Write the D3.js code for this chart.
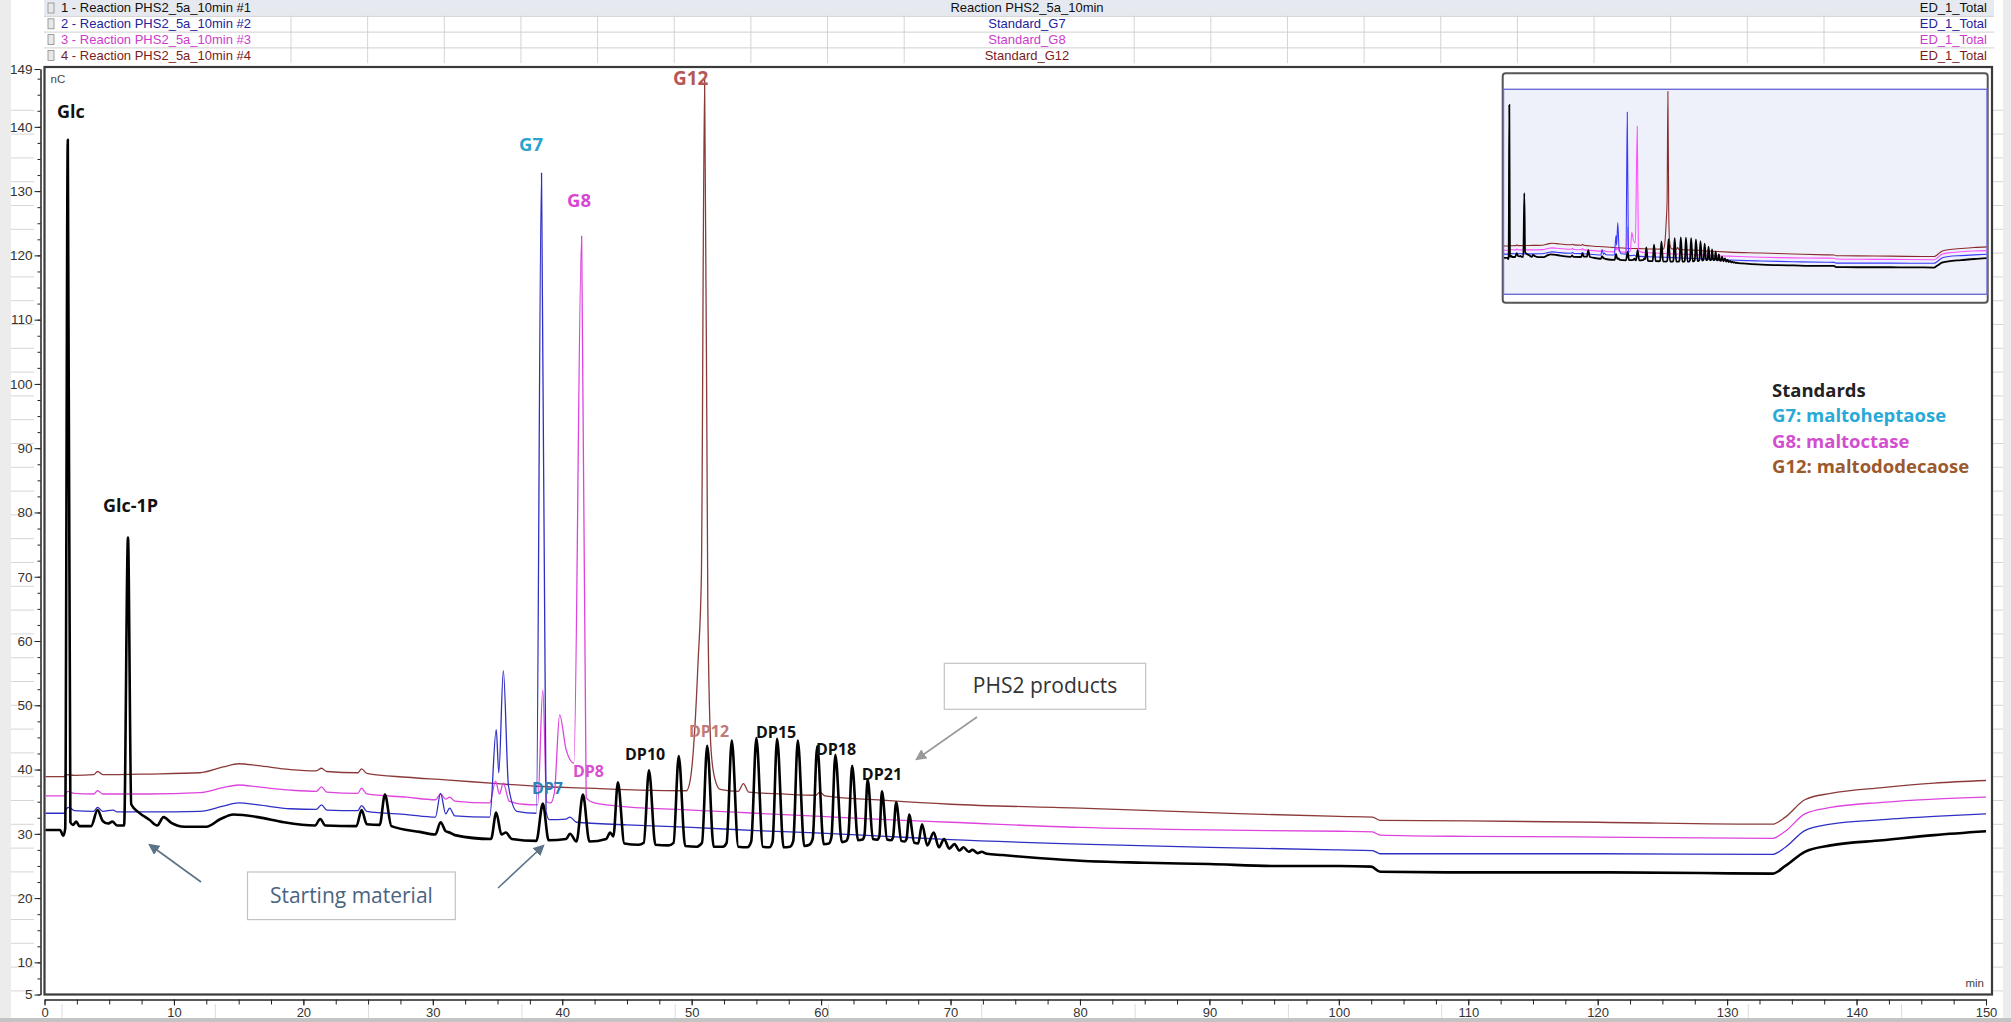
<!DOCTYPE html>
<html><head><meta charset="utf-8">
<script src="https://cdn.jsdelivr.net/npm/d3@7"></script>
<style>
html,body{margin:0;padding:0;background:#ffffff;overflow:hidden;}
svg{display:block;}
</style></head><body>
<svg id="chart" width="2011" height="1022"></svg>
<script>
// ---------- DATA ----------
const timeTicks = [0,10,20,30,40,50,60,70,80,90,100,110,120,130,140,150];
const nCTicks = [5,10,20,30,40,50,60,70,80,90,100,110,120,130,140,149];

const headerRows = [
  {label:"1 - Reaction PHS2_5a_10min #1", name:"Reaction PHS2_5a_10min", detector:"ED_1_Total"},
  {label:"2 - Reaction PHS2_5a_10min #2", name:"Standard_G7", detector:"ED_1_Total"},
  {label:"3 - Reaction PHS2_5a_10min #3", name:"Standard_G8", detector:"ED_1_Total"},
  {label:"4 - Reaction PHS2_5a_10min #4", name:"Standard_G12", detector:"ED_1_Total"}
];

// trace 1: reaction sample [min, nC]
const reactionTrace = [
[0,30.6],[1.2,30.6],[1.45,29.7],[1.6,30.8],[1.8,138],[2.0,31.8],[2.2,31.4],[2.45,31.9],[2.7,31.2],[3.6,31.2],
[4.1,33.7],[4.5,32.0],[4.9,31.6],[5.25,31.9],[5.6,31.3],[6.15,31.3],[6.45,76.1],[6.7,34.6],[7.3,33.3],[8.1,32.2],
[8.7,31.3],[9.2,32.6],[9.8,31.7],[10.8,31.1],[12.5,31.1],[13.6,32.3],[14.6,33.0],[16.5,32.6],[18.5,31.8],[20.9,31.3],
[21.3,32.3],[21.7,31.3],[24.1,31.2],[24.5,33.7],[24.9,31.5],[25.9,31.4],[26.3,36.1],[26.8,31.2],[29.0,30.3],[30.2,29.9],
[30.6,31.8],[31.0,30.4],[31.3,30.2],[31.7,29.8],[34.5,29.2],[34.9,33.3],[35.3,29.9],[35.65,30.2],[36.1,29.2],[38.0,28.9],
[38.5,34.7],[38.95,29.0],[40.3,29.2],[40.6,30.0],[41.1,28.8],[41.6,36.1],[42.1,28.8],[43.4,29.2],[43.7,30.2],[43.95,29.6],
[44.3,38.0],[44.8,28.5],[45.9,28.3],[46.3,28.6],[46.7,39.9],[47.2,28.3],[48.2,28.2],[48.6,28.6],[49.0,42.1],[49.5,28.1],
[50.4,28.0],[50.8,28.6],[51.2,43.7],[51.7,28.0],[52.4,28.0],[52.7,28.6],[53.1,44.5],[53.6,28.0],[54.3,27.9],[54.6,28.8],
[55.0,44.9],[55.5,28.0],[56.0,27.9],[56.25,28.8],[56.6,44.8],[57.1,27.9],[57.6,28.0],[57.85,28.9],[58.2,44.5],[58.7,28.1],
[59.1,28.3],[59.35,29.2],[59.7,43.6],[60.2,28.4],[60.6,28.5],[60.8,29.5],[61.1,42.3],[61.6,28.7],[61.95,28.9],[62.1,29.7],
[62.4,40.6],[62.85,29.0],[63.2,29.1],[63.35,29.8],[63.6,38.5],[64.0,29.2],[64.35,29.1],[64.5,29.6],[64.7,36.6],[65.1,29.1],
[65.4,29.0],[65.55,29.4],[65.8,34.9],[66.2,28.9],[66.45,28.8],[66.6,29.2],[66.8,33.0],[67.2,28.6],[67.5,28.5],[67.8,31.5],
[68.2,28.2],[68.7,30.2],[69.1,27.9],[69.5,29.2],[69.9,27.7],[70.3,28.4],[70.7,27.4],[71.0,27.9],[71.4,27.2],[71.7,27.5],
[72.1,27.0],[72.4,27.2],[72.8,26.9],[74,26.7],[77,26.2],[80,25.8],[85,25.5],[90,25.3],[95,25.0],[100,25.0],
[102.5,24.9],[103.2,24.1],[110,24.0],[120,24.0],[128,23.9],[133.5,23.8],[134.5,25.0],[136,27.2],[138,28.2],[142,29.0],
[146,29.8],[150,30.4]];

// trace 2: standard G7
const g7Trace = [
[0,33.2],[1.5,33.2],[1.7,33.9],[1.9,34.1],[2.3,33.6],[3.8,33.5],[4.1,34.1],[4.5,33.5],[5.3,33.7],[5.6,33.4],
[8,33.4],[12,33.5],[13.8,34.3],[15,34.8],[16.5,34.5],[19,33.9],[21.0,33.8],[21.4,34.5],[21.8,33.7],[24.2,33.6],
[24.5,34.4],[24.9,33.5],[28,33.0],[30.2,32.6],[30.6,36.3],[31.0,33.1],[31.3,34.0],[31.7,32.8],[34.4,32.6],[34.9,46.2],
[35.1,39.5],[35.45,55.4],[35.85,37.4],[36.5,33.5],[38.0,33.2],[38.4,132.8],[38.75,33.5],[39.0,32.2],[40.3,32.3],[40.6,32.6],
[41.1,31.8],[45,31.4],[50,31.0],[55,30.5],[60,30.1],[65,29.6],[70,29.1],[80,28.4],[90,27.9],[100,27.5],
[102.6,27.4],[103.2,26.9],[110,26.9],[120,26.9],[133.5,26.8],[134.5,27.9],[136,30.5],[138,31.5],[142,32.2],[146,32.7],
[150,33.1]];

// trace 3: standard G8
const g8Trace = [
[0,35.9],[1.5,35.9],[1.8,36.6],[2.3,36.3],[3.8,36.2],[4.1,36.7],[4.5,36.2],[8,36.2],[12,36.4],[13.8,37.2],
[15,37.6],[16.5,37.3],[19,36.8],[21.0,36.6],[21.4,37.3],[21.8,36.5],[24.2,36.3],[24.5,37.1],[24.9,36.2],[28,35.7],
[30.2,35.3],[30.6,36.2],[31.0,35.4],[31.3,35.7],[31.7,35.1],[34.4,34.8],[34.85,38.2],[35.15,36.2],[35.45,37.9],[35.9,35.1],
[37.0,34.6],[38.1,34.5],[38.5,52.4],[38.8,35.0],[39.1,34.8],[39.4,36.5],[39.8,48.5],[40.3,43.1],[40.9,41.0],[41.5,123.0],
[41.85,35.6],[42.5,34.8],[45,34.2],[50,33.7],[55,33.2],[60,32.7],[65,32.2],[70,31.8],[80,31.0],[90,30.6],
[100,30.4],[102.6,30.3],[103.2,29.8],[110,29.6],[120,29.5],[133.5,29.3],[134.5,30.4],[136,33.1],[138,34.1],[142,34.9],
[146,35.4],[150,35.7]];

// trace 4: standard G12
const g12Trace = [
[0,38.9],[1.5,38.9],[1.7,39.2],[2.3,39.1],[3.8,39.2],[4.1,39.7],[4.5,39.2],[8,39.3],[12,39.5],[13.8,40.4],
[15,40.9],[16.5,40.6],[19,40.0],[21.0,39.8],[21.4,40.2],[21.8,39.7],[24.2,39.5],[24.5,40.1],[24.9,39.4],[28,38.8],
[31,38.4],[35,37.8],[38,37.4],[42,37.1],[46,36.8],[49.6,36.7],[49.9,38.5],[50.2,45],[50.5,57],[50.75,70],
[51.0,147.4],[51.25,65],[51.5,43],[51.8,38.5],[52.2,36.9],[53.6,36.6],[54.0,37.8],[54.4,36.5],[57,36.2],[59.6,36.0],
[59.9,36.5],[60.3,35.9],[65,35.2],[70,34.6],[80,34.0],[90,33.3],[100,32.7],[102.6,32.6],[103.2,32.1],[110,32.0],
[120,31.8],[133.5,31.5],[134.5,32.6],[136,35.3],[138,36.3],[142,37.2],[146,37.9],[150,38.3]];

const traceColors = ["#000000", "#2f2fc4", "#dd44dd", "#8b3a3a"];
const insetColors = ["#000000", "#3a3aff", "#ff50ff", "#8b2a2a"];
const headerColors = ["#111111", "#23239c", "#cc3ccc", "#7a1c1c"];

// peak annotations [text, min, nC (baseline-left anchor), colour, size]
const peakLabels = [
  ["Glc", 0.97, 141.4, "#111111", 18],
  ["Glc-1P", 4.52, 80.0, "#111111", 18],
  ["G7", 36.66, 136.3, "#2aa3cf", 18.5],
  ["G8", 40.37, 127.5, "#d847d4", 18.5],
  ["G12", 48.55, 146.5, "#b35757", 19],
  ["DP7", 37.66, 36.2, "#2f7fb8", 16],
  ["DP8", 40.83, 38.85, "#d84fd0", 16],
  ["DP10", 44.85, 41.5, "#111111", 16],
  ["DP12", 49.79, 45.1, "#c07a78", 16],
  ["DP15", 54.97, 44.9, "#111111", 16],
  ["DP18", 59.6, 42.3, "#111111", 16],
  ["DP21", 63.15, 38.4, "#111111", 16]
];

const legendLines = [
  ["Standards", "#222222"],
  ["G7: maltoheptaose", "#29a9d6"],
  ["G8: maltoctase", "#d24fd0"],
  ["G12: maltododecaose", "#9b5a2e"]
];

// ---------- DRAWING ----------
const svg = d3.select("#chart");
const W = 2011, H = 1022;
const plot = {left:44.5, top:67, right:1992, bottom:994.5};

const x = d3.scaleLinear().domain([0,150]).range([44.5,1986]);
const y = d3.scaleLinear().domain([5,149]).range([994.5,69]);

// spreadsheet-like background
svg.append("rect").attr("width",W).attr("height",H).attr("fill","#ffffff");
svg.append("rect").attr("x",0).attr("y",0).attr("width",11).attr("height",H).attr("fill","#ececec");
svg.append("rect").attr("x",2003).attr("y",0).attr("width",8).attr("height",H).attr("fill","#ececec");
const rowLines = d3.range(110.3, 1000, 23.8);
svg.append("g").selectAll("line").data(rowLines).join("line")
  .attr("x1",11).attr("x2",34).attr("y1",d=>d).attr("y2",d=>d)
  .attr("stroke","#d6d6d6").attr("stroke-width",1);
svg.append("g").selectAll("line").data(rowLines).join("line")
  .attr("x1",1993).attr("x2",2003).attr("y1",d=>d).attr("y2",d=>d)
  .attr("stroke","#d6d6d6").attr("stroke-width",1);
// bottom strip
svg.append("rect").attr("x",0).attr("y",1018).attr("width",W).attr("height",4).attr("fill","#c4c4c4");
svg.append("g").selectAll("line").data(d3.range(62, 2000, 153.3)).join("line")
  .attr("x1",d=>d).attr("x2",d=>d).attr("y1",1004).attr("y2",1018)
  .attr("stroke","#dcdcdc");

// header table
const rowH = 15.8;
const header = svg.append("g");
header.append("rect").attr("x",44).attr("y",0).attr("width",1950).attr("height",rowH).attr("fill","#e6e9f0");
const colX = d3.range(0, 22).map(k => 291 + 76.65*k).filter(v => (v < 935 || v > 1120) && v < 1900);
header.selectAll("line.col").data(colX).join("line").attr("class","col")
  .attr("x1",d=>d).attr("x2",d=>d).attr("y1",rowH).attr("y2",rowH*4)
  .attr("stroke","#d4d4d4");
header.selectAll("line.row").data([1,2,3]).join("line").attr("class","row")
  .attr("x1",44).attr("x2",1994).attr("y1",d=>d*rowH+0.5).attr("y2",d=>d*rowH+0.5)
  .attr("stroke","#cfcfcf");
const hr = header.selectAll("g.hr").data(headerRows).join("g").attr("class","hr")
  .attr("transform",(d,i)=>`translate(0,${i*rowH})`);
hr.append("rect").attr("x",48).attr("y",3).attr("width",6).attr("height",10)
  .attr("fill","#e8e8e8").attr("stroke","#8a8a8a").attr("stroke-width",0.8);
hr.append("text").attr("x",61).attr("y",12.3).text(d=>d.label)
  .attr("fill",(d,i)=>headerColors[i]).attr("font-family","Liberation Sans, Arial, sans-serif").attr("font-size",13);
hr.append("text").attr("x",1027).attr("y",12.3).attr("text-anchor","middle").text(d=>d.name)
  .attr("fill",(d,i)=>headerColors[i]).attr("font-family","Liberation Sans, Arial, sans-serif").attr("font-size",13);
hr.append("text").attr("x",1987).attr("y",12.3).attr("text-anchor","end").text(d=>d.detector)
  .attr("fill",(d,i)=>headerColors[i]).attr("font-family","Liberation Sans, Arial, sans-serif").attr("font-size",13);

// plot frame
svg.append("rect").attr("x",plot.left).attr("y",plot.top)
  .attr("width",plot.right-plot.left).attr("height",plot.bottom-plot.top)
  .attr("fill","#ffffff").attr("stroke","#3a3a3a").attr("stroke-width",2.2);

// y axis
const yMinor = d3.range(5, 149.1, 2.5);
const yAxisMinor = d3.axisLeft(y).tickValues(yMinor).tickSize(3).tickSizeOuter(0).tickFormat("");
const yAxis = d3.axisLeft(y).tickValues(nCTicks).tickSize(6).tickSizeOuter(0).tickPadding(2).tickFormat(d3.format("d"));
svg.append("g").attr("transform","translate(40.5,0)").call(yAxisMinor);
const gy = svg.append("g").attr("transform","translate(40.5,0)").call(yAxis);
svg.selectAll(".tick line, .domain").attr("stroke","#222");
gy.selectAll("text").attr("font-family","Liberation Sans, Arial, sans-serif").attr("font-size",13.5).attr("fill","#333");

// x axis
const xMinor = d3.range(0, 150.1, 2.5);
const xAxisMinor = d3.axisBottom(x).tickValues(xMinor).tickSize(5).tickSizeOuter(0).tickFormat("");
const xAxis = d3.axisBottom(x).tickValues(timeTicks).tickSize(6).tickSizeOuter(0).tickPadding(2).tickFormat(d3.format("d"));
svg.append("g").attr("transform","translate(0,999.5)").call(xAxisMinor);
const gx = svg.append("g").attr("transform","translate(0,999.5)").call(xAxis);
svg.selectAll(".tick line, .domain").attr("stroke","#222");
gx.selectAll("text").attr("font-family","Liberation Sans, Arial, sans-serif").attr("font-size",13).attr("fill","#333");

// unit labels
svg.append("text").attr("x",plot.left+6).attr("y",plot.top+16).text("nC")
  .attr("font-family","Liberation Sans, Arial, sans-serif").attr("font-size",11.5).attr("fill","#444");
svg.append("text").attr("x",1984).attr("y",987).attr("text-anchor","end").text("min")
  .attr("font-family","Liberation Sans, Arial, sans-serif").attr("font-size",11.5).attr("fill","#444");

// clip
const defs = svg.append("defs");
defs.append("clipPath").attr("id","plotClip").append("rect")
  .attr("x",plot.left+1).attr("y",plot.top+1).attr("width",plot.right-plot.left-2).attr("height",plot.bottom-plot.top-2);

const series = [reactionTrace, g7Trace, g8Trace, g12Trace];
const line = d3.line().x(d=>x(d[0])).y(d=>y(d[1])).curve(d3.curveMonotoneX);
const traces = svg.append("g").attr("clip-path","url(#plotClip)");
// draw standards first, reaction on top
[3,2,1,0].forEach(i => {
  traces.append("path").datum(series[i]).attr("d",line)
    .attr("fill","none").attr("stroke",traceColors[i])
    .attr("stroke-width", i===0 ? 2.6 : 1.3).attr("stroke-linejoin","round");
});

// peak labels
svg.append("g").selectAll("text").data(peakLabels).join("text")
  .attr("x",d=>x(d[1])).attr("y",d=>y(d[2])).text(d=>d[0])
  .attr("fill",d=>d[3]).attr("font-size",d=>d[4])
  .attr("font-family","Open Sans, Lato, sans-serif").attr("font-weight","bold");

// legend
svg.append("g").selectAll("text").data(legendLines).join("text")
  .attr("x",1772).attr("y",(d,i)=>397+i*25.3).text(d=>d[0])
  .attr("fill",d=>d[1]).attr("font-size",18.5)
  .attr("font-family","Open Sans, Lato, sans-serif").attr("font-weight","bold");

// arrow markers
function marker(id, color){
  defs.append("marker").attr("id",id).attr("viewBox","0 0 10 10").attr("refX",8).attr("refY",5)
    .attr("markerWidth",7).attr("markerHeight",7).attr("orient","auto-start-reverse")
    .append("path").attr("d","M0,0 L10,5 L0,10 z").attr("fill",color);
}
marker("arrSlate","#5b7287");
marker("arrGray","#9a9a9a");

// annotation boxes
const boxes = [
  {text:"Starting material", x0:247.5, y0:872, x1:455.3, y1:919.6, color:"#4a6480"},
  {text:"PHS2 products", x0:944.3, y0:663.3, x1:1145.7, y1:709.3, color:"#333333"}
];
const bx = svg.append("g").selectAll("g").data(boxes).join("g");
bx.append("rect").attr("x",d=>d.x0).attr("y",d=>d.y0).attr("width",d=>d.x1-d.x0).attr("height",d=>d.y1-d.y0)
  .attr("fill","#ffffff").attr("stroke","#c2c2c2").attr("stroke-width",1.2);
bx.append("text").attr("x",d=>(d.x0+d.x1)/2).attr("y",d=>(d.y0+d.y1)/2+7).attr("text-anchor","middle")
  .text(d=>d.text).attr("fill",d=>d.color).attr("font-size",21).attr("font-family","Open Sans, Lato, sans-serif");

const arrows = [
  {x1:201, y1:882, x2:150, y2:845, m:"arrSlate", c:"#5b7287"},
  {x1:498, y1:888, x2:543, y2:846, m:"arrSlate", c:"#5b7287"},
  {x1:977, y1:717, x2:917, y2:759, m:"arrGray", c:"#9a9a9a"}
];
svg.append("g").selectAll("line").data(arrows).join("line")
  .attr("x1",d=>d.x1).attr("y1",d=>d.y1).attr("x2",d=>d.x2).attr("y2",d=>d.y2)
  .attr("stroke",d=>d.c).attr("stroke-width",1.6).attr("marker-end",d=>`url(#${d.m})`);

// inset overview
const inset = svg.append("g");
inset.append("rect").attr("x",1502.7).attr("y",73.3).attr("width",485).attr("height",229.4).attr("rx",3)
  .attr("fill","#ffffff").attr("stroke","#555").attr("stroke-width",2);
inset.append("rect").attr("x",1503.5).attr("y",89.3).attr("width",483.5).attr("height",205)
  .attr("fill","#eef1f9").attr("stroke","#6d6dd8").attr("stroke-width",1.4);
const xi = d3.scaleLinear().domain([0,150]).range([1503.5,1987]);
const yi = d3.scaleLinear().domain([5,149]).range([294.3,89.3]);
defs.append("clipPath").attr("id","insetClip").append("rect")
  .attr("x",1504).attr("y",90).attr("width",482.5).attr("height",203.5);
const lineI = d3.line().x(d=>xi(d[0])).y(d=>yi(d[1])).curve(d3.curveMonotoneX);
const it = inset.append("g").attr("clip-path","url(#insetClip)");
[3,2,1,0].forEach(i => {
  it.append("path").datum(series[i]).attr("d",lineI)
    .attr("fill","none").attr("stroke",insetColors[i])
    .attr("stroke-width", i===0 ? 1.8 : 1.1);
});
</script>
</body></html>
